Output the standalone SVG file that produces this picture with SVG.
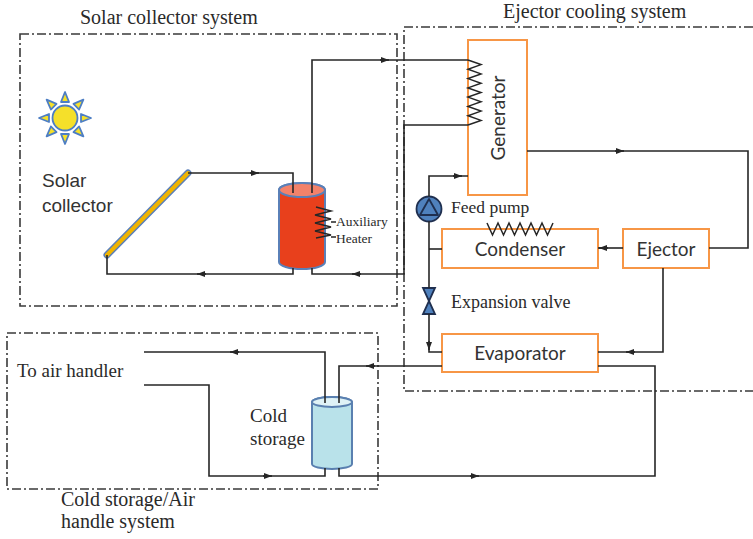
<svg xmlns="http://www.w3.org/2000/svg" width="753" height="539" viewBox="0 0 753 539">
  <style>
    .zone { fill: none; stroke: #3a3a3a; stroke-width: 1.6; stroke-dasharray: 9 3 2 3; }
    .pipe { fill: none; stroke: #262626; stroke-width: 1.6; stroke-linejoin: miter; }
    .arrow { fill: none; stroke: #262626; stroke-width: 1.6; marker-end: url(#ah); }
    .box { fill: #ffffff; stroke: #f79646; stroke-width: 2; }
    .coil { fill: none; stroke: #262626; stroke-width: 1.5; stroke-linejoin: miter; }
    .lbl { font-family: Lato, "Open Sans", "Liberation Sans", sans-serif; font-size: 19px; fill: #333333; }
    .serif { font-family: "Liberation Serif", "DejaVu Serif", serif; fill: #2a2a2a; }
    .sans { font-family: "Liberation Sans", Arial, sans-serif; fill: #333333; }
    .blue { fill: #4f81bd; stroke: #1f2f4f; stroke-width: 1.8; }
  </style>
  <defs>
    <marker id="ah" viewBox="0 0 8 6" refX="8" refY="3" markerWidth="8" markerHeight="6" markerUnits="userSpaceOnUse" orient="auto">
      <path d="M0,0 L8,3 L0,6 z" fill="#262626"/>
    </marker>
  </defs>

  <rect width="753" height="539" fill="#ffffff"/>

  <!-- system boundaries -->
  <g id="zones">
    <rect class="zone" x="20" y="34" width="377" height="272"/>
    <path class="zone" d="M753,27 L404,27 L404,391 L753,391"/>
    <rect class="zone" x="7" y="333" width="371" height="156"/>
    <text class="serif" x="80" y="24" font-size="20">Solar collector system</text>
    <text class="serif" x="503" y="18" font-size="20">Ejector cooling system</text>
    <text class="serif" x="61" y="506" font-size="20">Cold storage/Air</text>
    <text class="serif" x="61" y="528" font-size="20">handle system</text>
  </g>

  <!-- sun -->
  <g id="sun">
    <g fill="#f5e02a" stroke="#4d7ec4" stroke-width="1.8" stroke-linejoin="round">
      <polygon points="61,102 69,102 65,92" transform="rotate(0 65 118)"/>
      <polygon points="61,102 69,102 65,92" transform="rotate(45 65 118)"/>
      <polygon points="61,102 69,102 65,92" transform="rotate(90 65 118)"/>
      <polygon points="61,102 69,102 65,92" transform="rotate(135 65 118)"/>
      <polygon points="61,102 69,102 65,92" transform="rotate(180 65 118)"/>
      <polygon points="61,102 69,102 65,92" transform="rotate(225 65 118)"/>
      <polygon points="61,102 69,102 65,92" transform="rotate(270 65 118)"/>
      <polygon points="61,102 69,102 65,92" transform="rotate(315 65 118)"/>
      <circle cx="65" cy="118" r="12.5"/>
    </g>
  </g>

  <!-- solar collector panel -->
  <g id="collector">
    <line x1="107" y1="255" x2="188" y2="173" stroke="#5b7fb8" stroke-width="7" stroke-linecap="round"/>
    <line x1="107" y1="255" x2="188" y2="173" stroke="#f0b400" stroke-width="4" stroke-linecap="round"/>
    <text class="sans" x="42" y="187" font-size="19">Solar</text>
    <text class="sans" x="42" y="212" font-size="19">collector</text>
  </g>

  <!-- hot water tank with auxiliary heater -->
  <g id="hot-tank">
    <path d="M279,190 L279,262 A23,7 0 0 0 325,262 L325,190 A23,7 0 0 0 279,190 z" fill="#e8401c" stroke="#5a80b8" stroke-width="2"/>
    <ellipse cx="302" cy="190" rx="23" ry="7" fill="#f3826a" stroke="#5a80b8" stroke-width="2"/>
    <path class="coil" d="M316,207 L331,211 L315,215 L331,219 L315,223 L331,227 L315,231 L331,235 L316,238"/>
    <path class="coil" d="M331,222 L336,222 M331,237 L336,237"/>
    <text class="serif" x="336" y="226" font-size="13.5">Auxiliary</text>
    <text class="serif" x="336" y="243" font-size="13.5">Heater</text>
  </g>

  <!-- generator -->
  <g id="generator">
    <rect class="box" x="468" y="40" width="59" height="155"/>
    <path class="coil" d="M468,60 L481,64.6 L468,69.3 L481,73.9 L468,78.6 L481,83.2 L468,87.9 L481,92.5 L468,97.1 L481,101.8 L468,106.4 L481,111.1 L468,115.7 L481,120.4 L468,125"/>
    <text class="lbl" transform="translate(505 118) rotate(-90)" text-anchor="middle">Generator</text>
  </g>

  <!-- ejector -->
  <g id="ejector">
    <rect class="box" x="623" y="229" width="86" height="39"/>
    <text class="lbl" x="666" y="256" text-anchor="middle">Ejector</text>
  </g>

  <!-- condenser -->
  <g id="condenser">
    <rect class="box" x="442" y="229" width="156" height="39"/>
    <path class="coil" d="M487,223 L492.5,235 L498,223 L503.5,235 L509,223 L514.5,235 L520,223 L525.5,235 L531,223 L536.5,235 L542,223 L547.5,235 L553,223"/>
    <text class="lbl" x="520" y="256" text-anchor="middle">Condenser</text>
  </g>

  <!-- evaporator -->
  <g id="evaporator">
    <rect class="box" x="442" y="334" width="156" height="38"/>
    <text class="lbl" x="520" y="360" text-anchor="middle">Evaporator</text>
  </g>

  <!-- feed pump -->
  <g id="feed-pump">
    <circle class="blue" cx="429" cy="209" r="12.5"/>
    <polygon points="429,199 420,215 438,215" fill="none" stroke="#1f2f4f" stroke-width="1.8" stroke-linejoin="round"/>
    <text class="serif" x="451" y="213" font-size="17.5">Feed pump</text>
  </g>

  <!-- expansion valve -->
  <g id="expansion-valve">
    <polygon class="blue" points="423,288 435,288 429,301 435,314 423,314 429,301" stroke="#3f6fae" stroke-width="1"/>
    <text class="serif" x="451" y="308" font-size="18">Expansion valve</text>
  </g>

  <!-- cold storage tank -->
  <g id="cold-tank">
    <path d="M312,402 L312,464 A20,5 0 0 0 352,464 L352,402 A20,5 0 0 0 312,402 z" fill="#b9e2ea" stroke="#5a80b0" stroke-width="2"/>
    <ellipse cx="332" cy="402" rx="20" ry="5" fill="#dff2f6" stroke="#5a80b0" stroke-width="2"/>
    <text class="serif" x="250" y="422" font-size="19">Cold</text>
    <text class="serif" x="250" y="445" font-size="19">storage</text>
  </g>

  <!-- air handler -->
  <g id="air-handler">
    <text class="serif" x="17" y="377" font-size="19">To air handler</text>
  </g>

  <!-- piping -->
  <g id="connectors">
    <!-- solar loop -->
    <path class="pipe" d="M188,173 L293,173 L293,193"/>
    <path class="pipe" d="M293,268 L293,274 L107,274 L107,255"/>
    <path class="pipe" d="M312,193 L312,60 L468,60"/>
    <path class="pipe" d="M312,268 L312,274 L404,274 L404,125 L468,125"/>
    <!-- ejector loop -->
    <path class="pipe" d="M527,151 L748,151 L748,248 L709,248"/>
    <path class="pipe" d="M623,248 L598,248"/>
    <path class="pipe" d="M663,268 L663,352 L598,352"/>
    <path class="pipe" d="M468,176 L429,176 L429,196.5"/>
    <path class="pipe" d="M429,221.5 L429,288"/>
    <path class="pipe" d="M429,314 L429,352 L442,352"/>
    <path class="pipe" d="M442,249 L429,249"/>
    <!-- chilled water loop -->
    <path class="pipe" d="M442,366 L339,366 L339,403"/>
    <path class="pipe" d="M598,366 L655,366 L655,476 L339,476 L339,468"/>
    <!-- air handler loop -->
    <path class="pipe" d="M144,352 L325,352 L325,403"/>
    <path class="pipe" d="M144,385 L209,385 L209,476 L325,476 L325,468"/>
    <!-- flow arrows -->
    <path class="arrow" d="M380,60 L389,60"/>
    <path class="arrow" d="M250,173 L259,173"/>
    <path class="arrow" d="M206,274 L197,274"/>
    <path class="arrow" d="M361,274 L352,274"/>
    <path class="arrow" d="M453,176 L462,176"/>
    <path class="arrow" d="M615,151 L624,151"/>
    <path class="arrow" d="M608,248 L599,248"/>
    <path class="arrow" d="M635,352 L626,352"/>
    <path class="arrow" d="M429,341 L429,350"/>
    <path class="arrow" d="M375,366 L366,366"/>
    <path class="arrow" d="M470,476 L479,476"/>
    <path class="arrow" d="M239,352 L230,352"/>
    <path class="arrow" d="M263,476 L272,476"/>
  </g>
</svg>
